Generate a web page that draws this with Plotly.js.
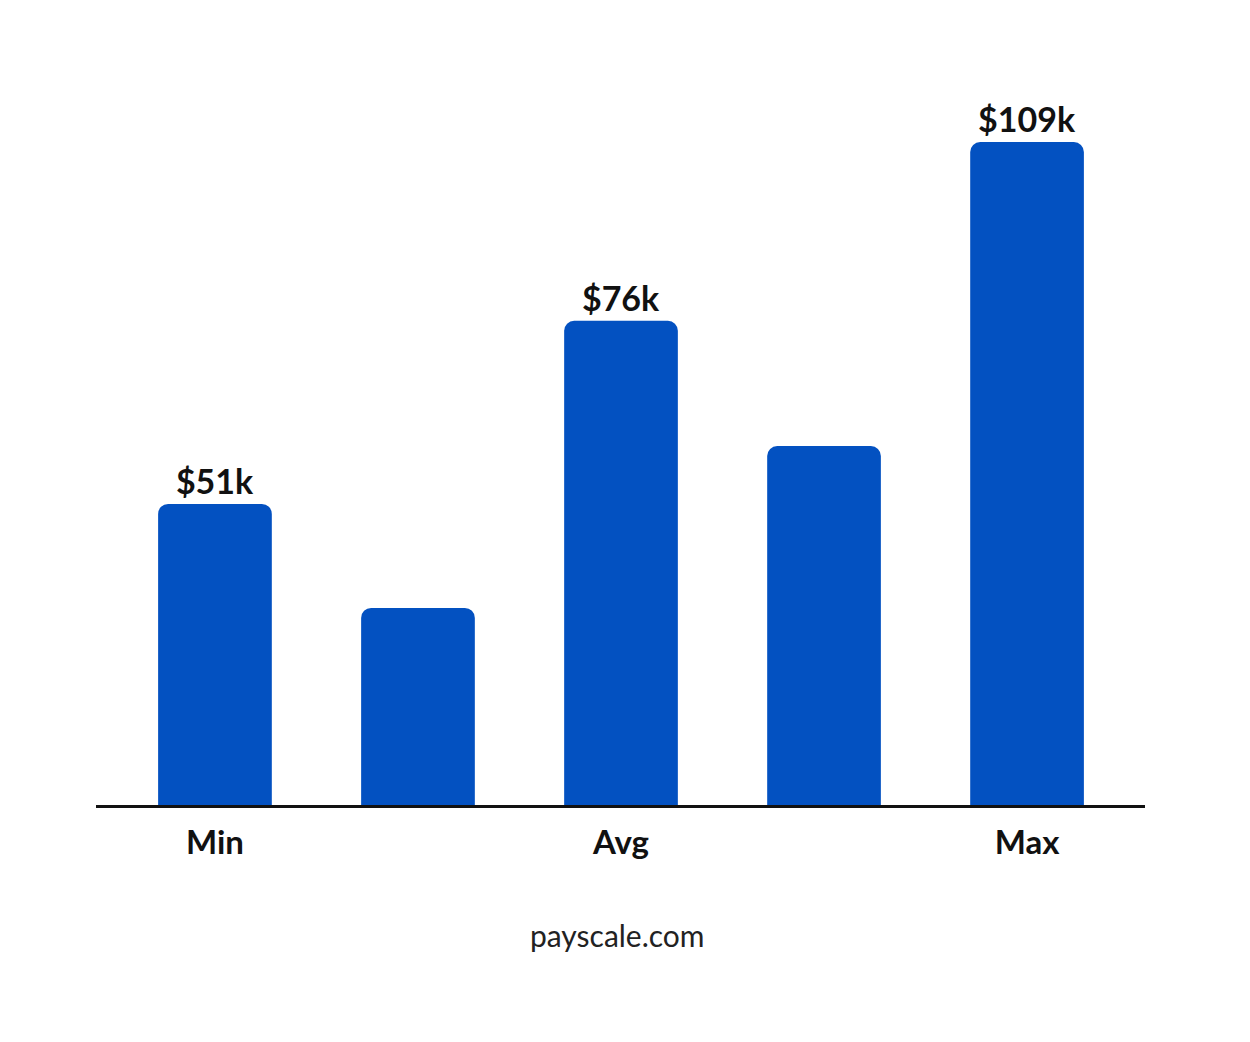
<!DOCTYPE html>
<html>
<head>
<meta charset="utf-8">
<script src="https://cdn.plot.ly/plotly-3.0.1.min.js"></script>
<style>
  html, body { margin: 0; padding: 0; background: #fff; }
  #chart { width: 1250px; height: 1042px; }
</style>
</head>
<body>
<div id="chart"></div>
<script>
// Salary bars (in $k)
const positions = [0, 1, 2, 3, 4];
const salaries = [49.5, 32.4, 79.6, 59.0, 109];
const barLabels = ['$51k', '', '$76k', '', '$109k'];
const tickLabels = ['Min', '', 'Avg', '', 'Max'];
const source = 'payscale.com';

const trace = {
    x: positions,
    y: salaries,
    type: 'bar',
    text: barLabels,
    textposition: 'outside',
    cliponaxis: false,
    textfont: { family: 'Lato, "Open Sans", sans-serif', size: 34, color: '#111', weight: 'bold' },
    marker: { color: '#0351c1', line: { width: 0 } },
    hoverinfo: 'skip'
};

const layout = {
    width: 1250,
    height: 1042,
    margin: { l: 96, r: 105, t: 100, b: 237 },
    paper_bgcolor: 'white',
    plot_bgcolor: 'white',
    showlegend: false,
    bargap: 0.44,
    barcornerradius: 10,
    xaxis: {
        range: [-0.586, 4.581],
        tickvals: positions,
        ticktext: tickLabels,
        showgrid: false,
        zeroline: false,
        showline: true,
        linecolor: '#111',
        linewidth: 3,
        ticks: '',
        ticklabelstandoff: 6,
        tickfont: { family: 'Lato, "Open Sans", sans-serif', size: 33, color: '#111', weight: 'bold' }
    },
    yaxis: {
        range: [0, 115.9],
        visible: false,
        showgrid: false,
        zeroline: false
    },
    annotations: [{
        text: source,
        xref: 'paper', yref: 'paper',
        x: 0.497, y: -0.184,
        xanchor: 'center', yanchor: 'middle',
        showarrow: false,
        font: { family: 'Lato, "Open Sans", sans-serif', size: 30, color: '#222' }
    }]
};

Plotly.newPlot('chart', [trace], layout, { displayModeBar: false, staticPlot: true });
</script>
</body>
</html>
